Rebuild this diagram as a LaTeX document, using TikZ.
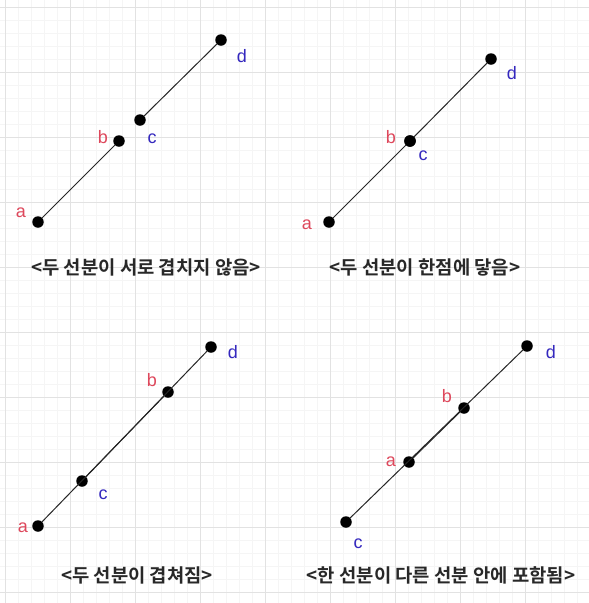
\documentclass[tikz,border=0pt]{standalone}
\usepackage{fontspec}
\setmainfont{Liberation Sans}
\newfontfamily\kofont[BoldFont={Noto Sans CJK KR Bold}]{Noto Sans CJK KR}
\usepackage{tikz}
\definecolor{lblred}{RGB}{222,72,92}
\definecolor{lblblue}{RGB}{52,40,190}
\definecolor{capgray}{RGB}{40,40,40}
\definecolor{gridmajor}{RGB}{226,226,226}
\definecolor{gridminor}{RGB}{245,245,245}
\tikzset{
  dot/.style={circle, fill=black, inner sep=0pt, minimum size=11.5pt},
  seg/.style={draw=black!85, line width=1pt},
  redlbl/.style={text=lblred, inner sep=0pt,
                 font=\fontsize{18}{18}\selectfont},
  bluelbl/.style={text=lblblue, inner sep=0pt,
                  font=\fontsize{18}{18}\selectfont},
  caption/.style={text=capgray, inner sep=0pt,
                  font=\kofont\bfseries\fontsize{18.8}{21}\selectfont},
  majorgrid/.style={draw=gridmajor, line width=1pt},
  minorgrid/.style={draw=gridminor, line width=0.8pt},
}

\begin{document}
\begin{tikzpicture}[x=1pt, y=-1pt]
  \useasboundingbox[fill=white] (0,0) rectangle (589,603);
  % background grid
  \foreach \x in {5,18,...,589} \draw[minorgrid] (\x,0) -- (\x,603);
  \foreach \y in {7,20,...,603} \draw[minorgrid] (0,\y) -- (589,\y);
  \foreach \x in {5,70,...,589} \draw[majorgrid] (\x,0) -- (\x,603);
  \foreach \y in {7,72,...,603} \draw[majorgrid] (0,\y) -- (589,\y);

  % top left: apart
  \node[dot] (a1) at (38,222) {};
  \node[dot] (b1) at (119,141) {};
  \node[dot] (c1) at (140,120) {};
  \node[dot] (d1) at (221,40) {};
  \node[redlbl]  (la1) at (21,213) {a};
  \node[redlbl]  (lb1) at (103,137) {b};
  \node[bluelbl] (lc1) at (152,139) {c};
  \node[bluelbl] (ld1) at (242,56) {d};
  \node[caption] (cap1) at (146,267) {<두 선분이 서로 겹치지 않음>};

  % top right: touching at one point
  \node[dot] (a2) at (329,222) {};
  \node[dot] (b2) at (410,141) {};
  \node[dot] (c2) at (410,141) {};
  \node[dot] (d2) at (491,59) {};
  \node[redlbl]  (la2) at (307,225) {a};
  \node[redlbl]  (lb2) at (391,137) {b};
  \node[bluelbl] (lc2) at (423,156) {c};
  \node[bluelbl] (ld2) at (512,73) {d};
  \node[caption] (cap2) at (425,267) {<두 선분이 한점에 닿음>};

  % bottom left: overlapping
  \node[dot] (a3) at (38,526) {};
  \node[dot] (c3) at (82,481) {};
  \node[dot] (b3) at (168,392) {};
  \node[dot] (d3) at (211,347) {};
  \node[redlbl]  (la3) at (23,528) {a};
  \node[bluelbl] (lc3) at (103,495) {c};
  \node[redlbl]  (lb3) at (152,380) {b};
  \node[bluelbl] (ld3) at (233,352) {d};
  \node[caption] (cap3) at (137,575) {<두 선분이 겹쳐짐>};

  % bottom right: one inside the other
  \node[dot] (c4) at (346,522) {};
  \node[dot] (a4) at (409,462) {};
  \node[dot] (b4) at (464,408) {};
  \node[dot] (d4) at (527,346) {};
  \node[bluelbl] (lc4) at (358,544) {c};
  \node[redlbl]  (la4) at (391,462) {a};
  \node[redlbl]  (lb4) at (447,396) {b};
  \node[bluelbl] (ld4) at (551,352) {d};
  \node[caption] (cap4) at (441,575) {<한 선분이 다른 선분 안에 포함됨>};

  \draw[seg] (a1) -- (b1);
  \draw[seg] (c1) -- (d1);
  \draw[seg] (a2) -- (b2);
  \draw[seg] (c2) -- (d2);
  \draw[seg] (a3) -- (b3);
  \draw[seg] (c3) -- (d3);
  \draw[seg] (a4) -- (b4);
  \draw[seg] (c4) -- (d4);
\end{tikzpicture}
\end{document}
